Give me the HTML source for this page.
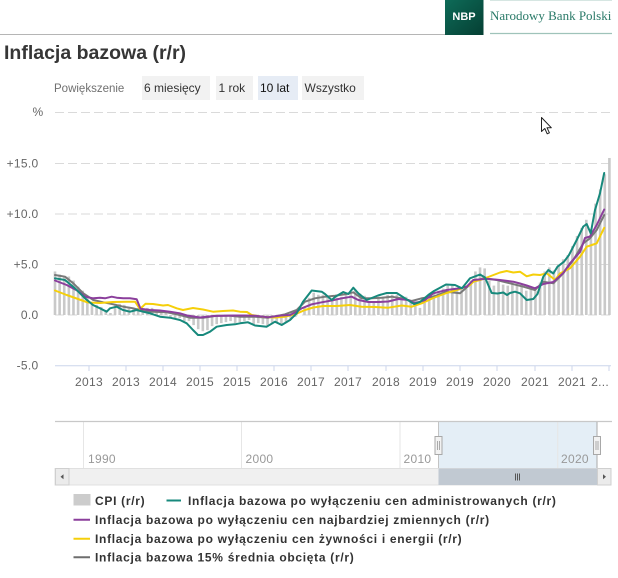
<!DOCTYPE html>
<html><head><meta charset="utf-8"><style>
html,body{margin:0;padding:0;background:#fff;}
body{width:618px;height:578px;overflow:hidden;}
svg{display:block;}
text{font-family:"Liberation Sans",Arial,sans-serif;}
</style></head><body>
<svg width="618" height="578" viewBox="0 0 618 578" xmlns="http://www.w3.org/2000/svg">
<!-- header -->
<line x1="0" y1="34.5" x2="446" y2="34.5" stroke="#b5b5b5" stroke-width="1"/>
<defs><linearGradient id="nbpg" x1="0" y1="0" x2="1" y2="1"><stop offset="0" stop-color="#0e6b58"/><stop offset="1" stop-color="#053f33"/></linearGradient></defs>
<rect x="445" y="0" width="38.5" height="35" fill="url(#nbpg)"/>
<text x="464" y="20" font-size="11" font-weight="bold" fill="#fff" text-anchor="middle">NBP</text>
<line x1="490" y1="0.5" x2="612" y2="0.5" stroke="#d6e6e2" stroke-width="1"/>
<text x="490" y="20" font-size="13" fill="#2a7a68" style="font-family:'Liberation Serif',serif">Narodowy Bank Polski</text>
<line x1="490" y1="33.5" x2="612" y2="33.5" stroke="#9fc3ba" stroke-width="1.2"/>

<text x="4" y="59" font-size="19.5" font-weight="bold" fill="#363636">Inflacja bazowa (r/r)</text>

<text x="54" y="92" font-size="11.5" fill="#707070">Powiększenie</text>
<rect x="142" y="76" width="68" height="24" fill="#f2f2f2"/>
<text x="144" y="92" font-size="12" fill="#333">6 miesięcy</text>
<rect x="216" y="76" width="37" height="24" fill="#f2f2f2"/>
<text x="218.5" y="92" font-size="12" fill="#333">1 rok</text>
<rect x="258" y="76" width="40" height="24" fill="#e6ecf5"/>
<text x="260" y="92" font-size="12" fill="#111">10 lat</text>
<rect x="302" y="76" width="62" height="24" fill="#f2f2f2"/>
<text x="304.5" y="92" font-size="12" fill="#333">Wszystko</text>

<!-- y axis labels & grid -->
<g font-size="12" fill="#666" text-anchor="end" letter-spacing="0.3">
<text x="43.5" y="116">%</text>
<text x="38.5" y="167.5">+15.0</text>
<text x="38.5" y="218">+10.0</text>
<text x="38.5" y="268.7">+5.0</text>
<text x="38.5" y="319">0.0</text>
<text x="38.5" y="369.7">-5.0</text>
</g>
<g stroke="#dadada" stroke-width="1" stroke-dasharray="9,4">
<line x1="55" y1="112.5" x2="611" y2="112.5"/>
<line x1="55" y1="163.5" x2="611" y2="163.5"/>
<line x1="55" y1="214" x2="611" y2="214"/>
<line x1="55" y1="264.5" x2="611" y2="264.5"/>
<line x1="55" y1="315" x2="611" y2="315"/>
</g>
<line x1="55" y1="365.7" x2="611" y2="365.7" stroke="#ccd6eb" stroke-width="1"/>
<g stroke="#ccd6eb" stroke-width="1">
<line x1="89" y1="366" x2="89" y2="371"/><line x1="126" y1="366" x2="126" y2="371"/><line x1="163" y1="366" x2="163" y2="371"/><line x1="200" y1="366" x2="200" y2="371"/><line x1="237" y1="366" x2="237" y2="371"/><line x1="274" y1="366" x2="274" y2="371"/><line x1="311" y1="366" x2="311" y2="371"/><line x1="348" y1="366" x2="348" y2="371"/><line x1="386" y1="366" x2="386" y2="371"/><line x1="423" y1="366" x2="423" y2="371"/><line x1="460" y1="366" x2="460" y2="371"/><line x1="497" y1="366" x2="497" y2="371"/><line x1="535" y1="366" x2="535" y2="371"/><line x1="572" y1="366" x2="572" y2="371"/><line x1="609" y1="366" x2="609" y2="371"/>
</g>
<g font-size="12" fill="#666" text-anchor="middle" letter-spacing="0.3">
<text x="89" y="386">2013</text><text x="126" y="386">2013</text><text x="163" y="386">2014</text><text x="200" y="386">2015</text><text x="237" y="386">2015</text><text x="274" y="386">2016</text><text x="311" y="386">2017</text><text x="348" y="386">2017</text><text x="386" y="386">2018</text><text x="423" y="386">2019</text><text x="460" y="386">2019</text><text x="497" y="386">2020</text><text x="535" y="386">2021</text><text x="572" y="386">2021</text><text x="609" y="386" text-anchor="end">2...</text>
</g>

<!-- CPI bars -->
<g fill="#c9c9c9">
<rect x="53.7" y="271.44" width="2.6" height="43.56"/>
<rect x="58.32" y="274.48" width="2.6" height="40.52"/>
<rect x="62.94" y="276.51" width="2.6" height="38.49"/>
<rect x="67.56" y="276.51" width="2.6" height="38.49"/>
<rect x="72.18" y="280.56" width="2.6" height="34.44"/>
<rect x="76.8" y="286.64" width="2.6" height="28.36"/>
<rect x="81.42" y="290.69" width="2.6" height="24.31"/>
<rect x="86.04" y="297.78" width="2.6" height="17.22"/>
<rect x="90.66" y="301.83" width="2.6" height="13.17"/>
<rect x="95.28" y="304.87" width="2.6" height="10.13"/>
<rect x="99.9" y="306.9" width="2.6" height="8.1"/>
<rect x="104.52" y="309.93" width="2.6" height="5.07"/>
<rect x="109.14" y="312.97" width="2.6" height="2.03"/>
<rect x="113.76" y="303.86" width="2.6" height="11.14"/>
<rect x="118.38" y="303.86" width="2.6" height="11.14"/>
<rect x="123.0" y="304.87" width="2.6" height="10.13"/>
<rect x="127.62" y="306.9" width="2.6" height="8.1"/>
<rect x="132.24" y="308.92" width="2.6" height="6.08"/>
<rect x="136.86" y="307.91" width="2.6" height="7.09"/>
<rect x="141.48" y="309.93" width="2.6" height="5.07"/>
<rect x="146.1" y="307.91" width="2.6" height="7.09"/>
<rect x="150.72" y="307.91" width="2.6" height="7.09"/>
<rect x="155.34" y="311.96" width="2.6" height="3.04"/>
<rect x="159.96" y="312.97" width="2.6" height="2.03"/>
<rect x="164.58" y="311.96" width="2.6" height="3.04"/>
<rect x="169.2" y="315" width="2.6" height="2.03"/>
<rect x="173.82" y="315" width="2.6" height="3.04"/>
<rect x="178.44" y="315" width="2.6" height="3.04"/>
<rect x="183.06" y="315" width="2.6" height="6.08"/>
<rect x="187.68" y="315" width="2.6" height="6.08"/>
<rect x="192.3" y="315" width="2.6" height="10.13"/>
<rect x="196.92" y="315" width="2.6" height="14.18"/>
<rect x="201.54" y="315" width="2.6" height="16.21"/>
<rect x="206.16" y="315" width="2.6" height="15.2"/>
<rect x="210.78" y="315" width="2.6" height="11.14"/>
<rect x="215.4" y="315" width="2.6" height="9.12"/>
<rect x="220.02" y="315" width="2.6" height="8.1"/>
<rect x="224.64" y="315" width="2.6" height="7.09"/>
<rect x="229.26" y="315" width="2.6" height="6.08"/>
<rect x="233.88" y="315" width="2.6" height="8.1"/>
<rect x="238.5" y="315" width="2.6" height="7.09"/>
<rect x="243.12" y="315" width="2.6" height="6.08"/>
<rect x="247.74" y="315" width="2.6" height="5.07"/>
<rect x="252.36" y="315" width="2.6" height="9.12"/>
<rect x="256.98" y="315" width="2.6" height="8.1"/>
<rect x="261.6" y="315" width="2.6" height="9.12"/>
<rect x="266.22" y="315" width="2.6" height="11.14"/>
<rect x="270.84" y="315" width="2.6" height="9.12"/>
<rect x="275.46" y="315" width="2.6" height="8.1"/>
<rect x="280.08" y="315" width="2.6" height="9.12"/>
<rect x="284.7" y="315" width="2.6" height="8.1"/>
<rect x="289.32" y="315" width="2.6" height="5.07"/>
<rect x="293.94" y="315" width="2.6" height="2.03"/>
<rect x="303.18" y="306.9" width="2.6" height="8.1"/>
<rect x="307.8" y="297.78" width="2.6" height="17.22"/>
<rect x="312.42" y="292.71" width="2.6" height="22.29"/>
<rect x="317.04" y="294.74" width="2.6" height="20.26"/>
<rect x="321.66" y="294.74" width="2.6" height="20.26"/>
<rect x="326.28" y="295.75" width="2.6" height="19.25"/>
<rect x="330.9" y="299.8" width="2.6" height="15.2"/>
<rect x="335.52" y="297.78" width="2.6" height="17.22"/>
<rect x="340.14" y="296.77" width="2.6" height="18.23"/>
<rect x="344.76" y="292.71" width="2.6" height="22.29"/>
<rect x="349.38" y="293.73" width="2.6" height="21.27"/>
<rect x="354.0" y="289.67" width="2.6" height="25.33"/>
<rect x="358.62" y="293.73" width="2.6" height="21.27"/>
<rect x="363.24" y="295.75" width="2.6" height="19.25"/>
<rect x="367.86" y="300.82" width="2.6" height="14.18"/>
<rect x="372.48" y="301.83" width="2.6" height="13.17"/>
<rect x="377.1" y="298.79" width="2.6" height="16.21"/>
<rect x="381.72" y="297.78" width="2.6" height="17.22"/>
<rect x="386.34" y="294.74" width="2.6" height="20.26"/>
<rect x="390.96" y="294.74" width="2.6" height="20.26"/>
<rect x="395.58" y="294.74" width="2.6" height="20.26"/>
<rect x="400.2" y="295.75" width="2.6" height="19.25"/>
<rect x="404.82" y="296.77" width="2.6" height="18.23"/>
<rect x="409.44" y="301.83" width="2.6" height="13.17"/>
<rect x="414.06" y="303.86" width="2.6" height="11.14"/>
<rect x="418.68" y="307.91" width="2.6" height="7.09"/>
<rect x="423.3" y="302.84" width="2.6" height="12.16"/>
<rect x="427.92" y="297.78" width="2.6" height="17.22"/>
<rect x="432.54" y="292.71" width="2.6" height="22.29"/>
<rect x="437.16" y="290.69" width="2.6" height="24.31"/>
<rect x="441.78" y="288.66" width="2.6" height="26.34"/>
<rect x="446.4" y="285.62" width="2.6" height="29.38"/>
<rect x="451.02" y="285.62" width="2.6" height="29.38"/>
<rect x="455.64" y="288.66" width="2.6" height="26.34"/>
<rect x="460.26" y="289.67" width="2.6" height="25.33"/>
<rect x="464.88" y="288.66" width="2.6" height="26.34"/>
<rect x="469.5" y="280.56" width="2.6" height="34.44"/>
<rect x="474.12" y="271.44" width="2.6" height="43.56"/>
<rect x="478.74" y="267.39" width="2.6" height="47.61"/>
<rect x="483.36" y="268.4" width="2.6" height="46.6"/>
<rect x="487.98" y="280.56" width="2.6" height="34.44"/>
<rect x="492.6" y="285.62" width="2.6" height="29.38"/>
<rect x="497.22" y="281.57" width="2.6" height="33.43"/>
<rect x="501.84" y="284.61" width="2.6" height="30.39"/>
<rect x="506.46" y="285.62" width="2.6" height="29.38"/>
<rect x="511.08" y="282.58" width="2.6" height="32.42"/>
<rect x="515.7" y="283.6" width="2.6" height="31.4"/>
<rect x="520.32" y="284.61" width="2.6" height="30.39"/>
<rect x="524.94" y="290.69" width="2.6" height="24.31"/>
<rect x="529.56" y="288.66" width="2.6" height="26.34"/>
<rect x="534.18" y="290.69" width="2.6" height="24.31"/>
<rect x="538.8" y="282.58" width="2.6" height="32.42"/>
<rect x="543.42" y="271.44" width="2.6" height="43.56"/>
<rect x="548.04" y="267.39" width="2.6" height="47.61"/>
<rect x="552.66" y="270.43" width="2.6" height="44.57"/>
<rect x="557.28" y="264.35" width="2.6" height="50.65"/>
<rect x="561.9" y="259.28" width="2.6" height="55.72"/>
<rect x="566.52" y="255.23" width="2.6" height="59.77"/>
<rect x="571.14" y="246.12" width="2.6" height="68.88"/>
<rect x="575.76" y="235.99" width="2.6" height="79.01"/>
<rect x="580.38" y="227.88" width="2.6" height="87.12"/>
<rect x="585.0" y="219.78" width="2.6" height="95.22"/>
<rect x="589.62" y="228.89" width="2.6" height="86.11"/>
<rect x="594.24" y="203.57" width="2.6" height="111.43"/>
<rect x="598.86" y="189.39" width="2.6" height="125.61"/>
<rect x="603.48" y="174.19" width="2.6" height="140.81"/>
<rect x="608.1" y="157.98" width="2.6" height="157.02"/>
</g>

<!-- series lines -->
<g fill="none" stroke-width="2" stroke-linejoin="round" stroke-linecap="round">
<polyline stroke="#797979" points="55,275 65,276.7 73.3,283.3 83.3,293.3 93.3,300 103.3,302.3 113.3,304.3 123.3,306.7 133.3,308.3 143.3,311 153.3,311.7 166.7,312.3 176.7,314.3 190,317.7 203.3,317.7 216.7,315.7 230,315.7 240,316.7 255,316.7 268.3,317.7 285,314.3 296.7,310 305,301.7 315,298.3 325,296.7 335,295.7 345,294.3 353.3,292.3 361.7,298.3 371.7,298.3 381.7,297.7 391.7,296.7 401.7,298.3 411.7,301 421.7,298.3 433.3,296.7 446.7,291.7 460,293.3 473.3,281.7 483.3,278.3 496.7,280 510,283.3 523.3,286.7 535,290 543.3,281.7 553.3,283.3 563.3,273.3 573.3,260 583.3,243.3 590,238.3 596.7,230 604.2,215"/>
<polyline stroke="#f5cf0a" points="55,290.5 66.7,295 78,299 88,302.5 100,303 113,302 126.7,301.7 135,301.7 140,309 145.5,303.8 153,304 163,305.5 168,305 176.7,308.3 183,310 193,308 203,309.5 213,311.7 223,311 233,310.5 240,311.7 247,312 251.7,315 262,316.7 275,317.5 285,316.7 295,314.3 305,310 313.3,307.5 323.3,306 336.7,306 350,305 361.7,306.7 375,307 388.3,307.7 401.7,305.5 411.7,306.7 421.7,303.3 433.3,298 446.7,293 460,289 470,285 473.3,281.7 480,280 487,277.5 500,272.5 506.7,271 513.3,272.5 520,271.7 526.7,276.3 533.3,274.5 540,275 546.7,273.3 553.3,278.5 555,280 560,273.5 570,268.3 580,256.7 586.7,246.7 593.3,244.5 596.7,243.3 604.2,227.8"/>
<polyline stroke="#8b3f9c" points="55,280.5 66.7,285 78,291 85,296.7 93.3,298.3 100,297.7 105,298.3 111.7,296.7 116.7,297.7 123.3,298.3 130,298.3 136.7,299.2 140.5,308.8 150,310 160,310.5 170,311.7 180,313.3 187,315.5 200,317.5 213.3,316 223.3,315.7 233.3,315.5 245,315.5 255,315.7 268,317.3 281,315.5 290,315 296,312 301.7,308.3 311.7,304.3 321.7,302.3 331.7,300.5 341.7,298.3 351.7,296.7 358.3,300 368.3,302 378.3,302 388.3,301.5 398.3,299 408.3,300 413.3,302.7 418.3,302.3 425,300 433.3,293.3 446.7,290 460,288.3 466.7,286.7 473.3,280 486.7,278.7 500,280 513.3,281.7 520,283.5 526.7,285.5 535,288.3 543.3,284 553.3,282 563,273.3 570,263.3 580,252 585,238 590,236.5 596.7,225 604.2,209.5"/>
<polyline stroke="#17897c" points="55,278.3 65,280 75,288.3 85,298.3 93,305 100,308.3 106.7,311.7 110,308.3 116.7,306.7 123,310 130,311.7 136.7,310 143,311.7 150,313.3 160,316.7 170,317.7 180,320 186.7,323.3 193,330 198,335 203,335 210,331.7 216.7,326.7 226.7,325 235,324.3 240,323.3 248,322.3 255,325.5 266.7,326.7 275,321.7 281.7,325 290,320 296.7,313.3 303,301.7 311.7,290.5 321.7,291.7 325,294 331.7,300 335,297 343.3,292 348.3,294 353.3,287.7 358.3,293.3 366.7,300 378,295.5 386.7,293 396.7,293 405,298.3 414,304 420,302 428.3,295 434,291 446,284.5 455,285 462,288.3 470,278.3 480,274.5 485,277.5 491.7,293 497.5,293.5 503.3,292.5 507,295 510,293 515,291.7 520,293.3 526.7,300 533.3,299 537.5,294 543.3,276.7 548.3,270 553.3,273.5 557.5,266.7 564,261.7 569,255 576.7,240 583.3,226.5 586.7,224 590.7,233.3 595,210 600,193.3 604.2,173"/>
</g>

<!-- cursor -->
<path d="M541.5,117.5 L541.5,131.5 L544.8,128.5 L547.2,133.8 L549.4,132.8 L547,127.7 L551.3,127.7 Z" fill="#fff" stroke="#222" stroke-width="1" stroke-linejoin="round"/>

<!-- navigator -->
<rect x="438" y="422" width="159" height="46" fill="#e4eef6"/>
<g stroke="#e6e6e6" stroke-width="1">
<line x1="83.5" y1="422" x2="83.5" y2="468"/>
<line x1="241.5" y1="422" x2="241.5" y2="468"/>
<line x1="400" y1="422" x2="400" y2="468"/>
<line x1="557.7" y1="422" x2="557.7" y2="468"/>
</g>
<line x1="55" y1="421.5" x2="612" y2="421.5" stroke="#c8c8c8" stroke-width="1.2"/>
<line x1="438.5" y1="422" x2="438.5" y2="468" stroke="#c4c4c4" stroke-width="1"/>
<line x1="597" y1="422" x2="597" y2="468" stroke="#aaa" stroke-width="1"/>
<g font-size="12" fill="#999" letter-spacing="0.3">
<text x="88" y="463">1990</text>
<text x="245.5" y="463">2000</text>
<text x="403.5" y="463">2010</text>
<text x="561" y="463">2020</text>
</g>
<g fill="#f2f2f2" stroke="#a8a8a8" stroke-width="1">
<rect x="435" y="436.5" width="7" height="18"/>
<rect x="593.5" y="436.5" width="7" height="18"/>
</g>
<g stroke="#aaa" stroke-width="1">
<line x1="437.5" y1="441" x2="437.5" y2="450"/><line x1="439.5" y1="441" x2="439.5" y2="450"/>
<line x1="596" y1="441" x2="596" y2="450"/><line x1="598" y1="441" x2="598" y2="450"/>
</g>
<!-- scrollbar -->
<rect x="55" y="468.5" width="556" height="16.5" fill="#f0f0f0" stroke="#e0e0e0" stroke-width="1"/>
<rect x="438.5" y="468.5" width="158.5" height="16.5" fill="#c1c9d2"/>
<g stroke="#555" stroke-width="1">
<line x1="515.5" y1="473.5" x2="515.5" y2="480.5"/><line x1="517.5" y1="473.5" x2="517.5" y2="480.5"/><line x1="519.5" y1="473.5" x2="519.5" y2="480.5"/>
</g>
<rect x="55.5" y="468.5" width="13.5" height="16.5" fill="#ebebeb" stroke="#cfcfcf" stroke-width="1"/>
<rect x="597.5" y="468.5" width="13.5" height="16.5" fill="#ebebeb" stroke="#cfcfcf" stroke-width="1"/>
<path d="M60.5,476.8 L63.5,474.3 L63.5,479.3 Z" fill="#555"/>
<path d="M606,476.8 L603,474.3 L603,479.3 Z" fill="#555"/>

<!-- legend -->
<rect x="73.5" y="494" width="17" height="11.5" fill="#cccccc"/>
<g font-size="12" font-weight="bold" fill="#333" letter-spacing="0.7">
<text x="95" y="505">CPI (r/r)</text>
<text x="188" y="505">Inflacja bazowa po wyłączeniu cen administrowanych (r/r)</text>
<text x="95" y="524">Inflacja bazowa po wyłączeniu cen najbardziej zmiennych (r/r)</text>
<text x="95" y="543">Inflacja bazowa po wyłączeniu cen żywności i energii (r/r)</text>
<text x="95" y="561.5">Inflacja bazowa 15% średnia obcięta (r/r)</text>
</g>
<g stroke-width="2">
<line x1="166.5" y1="500.5" x2="181" y2="500.5" stroke="#17897c"/>
<line x1="73.5" y1="519.7" x2="90" y2="519.7" stroke="#8b3f9c"/>
<line x1="73.5" y1="538.7" x2="90" y2="538.7" stroke="#f5cf0a"/>
<line x1="73.5" y1="557.2" x2="90" y2="557.2" stroke="#6e6e6e"/>
</g>
</svg>
</body></html>
